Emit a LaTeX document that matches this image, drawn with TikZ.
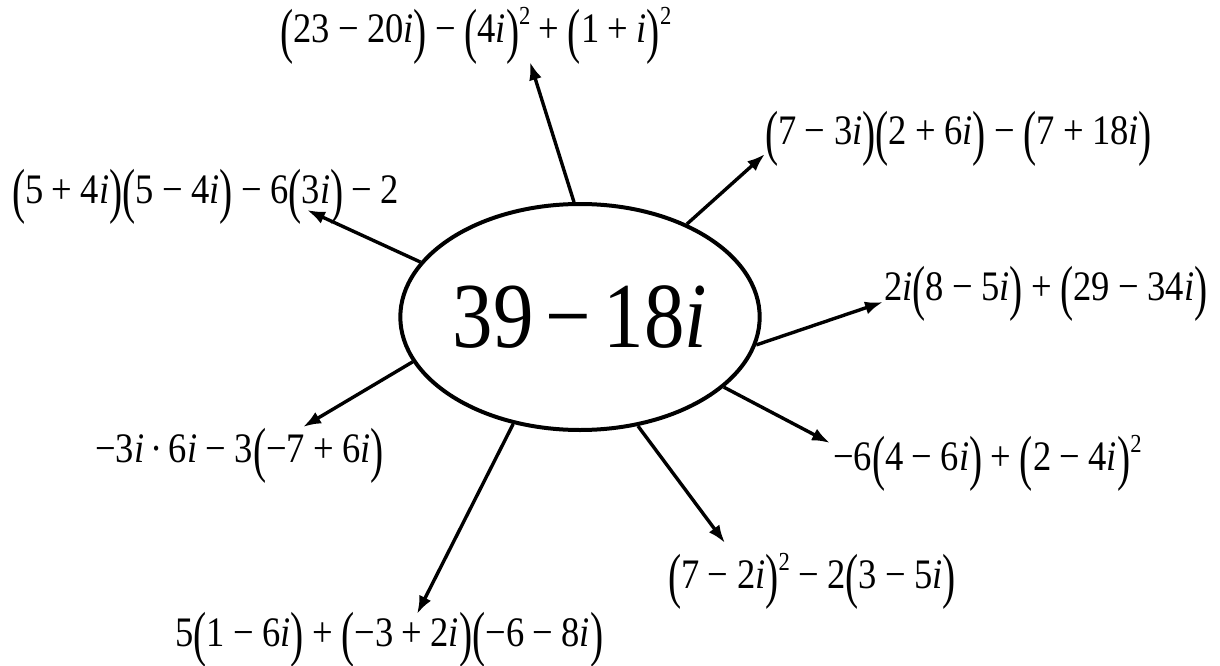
\documentclass[tikz,border=0pt]{standalone}
\usepackage{fontspec}
\setmainfont{Liberation Serif}[FakeStretch=0.87]
\usepackage{graphicx}
\usetikzlibrary{shapes.geometric,arrows.meta}
\newcommand\I{\textit{i}}
\newcommand\LP{\raisebox{-0.2em}{\scalebox{1.08}[1.45]{(}}}
\newcommand\RP{\raisebox{-0.2em}{\scalebox{1.08}[1.45]{)}}}
\newcommand\Mi{\hspace{0.2em}−\hspace{0.2em}}
\newcommand\Pl{\hspace{0.2em}+\hspace{0.2em}}
\newcommand\Sq{\raisebox{18pt}{\fontsize{26}{26}\selectfont 2}}
\tikzset{
  lab/.style={anchor=base west, inner sep=0pt, font=\fontsize{42}{42}\selectfont},
  arr/.style={line width=3.4pt, -{Latex[length=18pt,width=13pt]}},
  hub/.style={ellipse, draw, line width=4pt, minimum width=350pt, minimum height=226pt,
    inner sep=0pt, font=\fontsize{93}{93}\selectfont}
}
\begin{document}
\begin{tikzpicture}[x=1pt,y=-1pt]
\useasboundingbox (0,0) rectangle (1220,666);
\node[hub] (c) at (580,317) {39\hspace{0.13em}−\hspace{0.13em}18\I};
% labels
\node[lab] (l1) at (280,43) {\LP 23\Mi 20\I\RP\Mi\LP 4\I\RP\Sq\Pl\LP 1\Pl\I\RP\Sq};
\node[lab] (l2) at (765,145) {\LP 7\Mi 3\I\RP\LP 2\Pl 6\I\RP\Mi\LP 7\Pl 18\I\RP};
\node[lab] (l3) at (12,203) {\LP 5\Pl 4\I\RP\LP 5\Mi 4\I\RP\Mi 6\LP 3\I\RP\Mi 2};
\node[lab] (l4) at (884,300) {2\I\LP 8\Mi 5\I\RP\Pl\LP 29\Mi 34\I\RP};
\node[lab] (l5) at (833,470) {−6\LP 4\Mi 6\I\RP\Pl\LP 2\Mi 4\I\RP\Sq};
\node[lab] (l6) at (95,462) {−3\I\hspace{0.15em}·\hspace{0.15em}6\I\Mi 3\LP −7\Pl 6\I\RP};
\node[lab] (l7) at (668,588) {\LP 7\Mi 2\I\RP\Sq\Mi 2\LP 3\Mi 5\I\RP};
\node[lab] (l8) at (175,646) {5\LP 1\Mi 6\I\RP\Pl\LP −3\Pl 2\I\RP\LP −6\Mi 8\I\RP};
% arrow tips
\coordinate (t1) at (530,62);
\coordinate (t2) at (765,154);
\coordinate (t3) at (307,210);
\coordinate (t4) at (883,302);
\coordinate (t5) at (830,443);
\coordinate (t6) at (303,427);
\coordinate (t7) at (725,543);
\coordinate (t8) at (417,614);
\draw[arr] (c.93) -- (t1);
\draw[arr] (c.41) -- (t2);
\draw[arr] (c.161) -- (t3);
\draw[arr] (c.-9.4) -- (t4);
\draw[arr] (c.-26.9) -- (t5);
\draw[arr] (c.195) -- (t6);
\draw[arr] (c.-62.2) -- (t7);
\draw[arr] (c.238.6) -- (t8);
\end{tikzpicture}
\end{document}
